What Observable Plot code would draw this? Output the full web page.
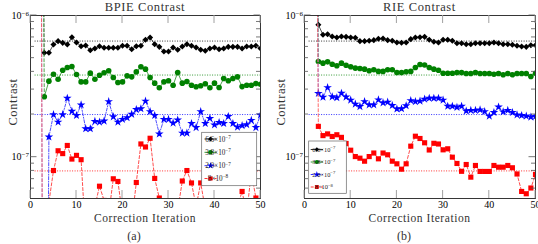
<!DOCTYPE html>
<html><head><meta charset="utf-8">
<script src="https://cdn.jsdelivr.net/npm/d3@7"></script>
<script src="https://cdn.jsdelivr.net/npm/@observablehq/plot@0.6"></script>
<style>
body{margin:0;background:#fff;}
#wrap{display:flex;width:538px;height:244px;overflow:hidden;}
svg text{font-family:"Liberation Serif","Times New Roman",serif;}
</style></head><body><div id="wrap"></div>
<script>
// ---- data (contrast values in units of 1e-7) ----
const iterations = [2,3,4,5,6,7,8,9,10,11,12,13,14,15,16,17,18,19,20,21,22,23,24,25,26,27,28,29,30,31,32,33,34,35,36,37,38,39,40,41,42,43,44,45,46,47,48,49,50];
const targets = [6.6e-7, 3.8e-7, 2.0e-7, 8e-8];
const legendMant = ["6.6","3.8","2.0","8"];
const legendExp = ["\u22127","\u22127","\u22127","\u22128"];
const xTicks = [0,10,20,30,40,50];
const yTicks = [1e-7, 1e-6];
const yMinor = [6e-8,7e-8,8e-8,9e-8,2e-7,3e-7,4e-7,5e-7,6e-7,7e-7,8e-7,9e-7];

// BPIE (a)
const bpieBlack = [1e5,5.46,5.46,6.24,6.59,6.41,6.24,7.03,6.45,6.07,6.14,5.69,5.85,6.07,5.92,5.92,5.92,5.92,6.11,6.11,5.78,6.07,6.11,6.74,6.99,6.27,6.01,5.57,5.57,5.94,5.73,6.04,6.27,6.11,5.94,5.73,5.64,5.85,5.94,5.78,5.85,6.01,6.01,6.01,5.85,6.04,6.04,6.11,5.85];
const bpieGreen = [1e5,2.67,3.44,3.85,3.55,4.11,4.30,4.37,3.83,3.40,3.40,3.92,3.55,3.79,3.94,4.07,3.65,3.37,3.40,3.75,3.69,4.00,4.35,4.18,3.65,3.33,3.09,3.40,3.46,3.22,3.96,3.33,3.42,3.22,3.14,3.19,3.30,3.09,3.33,3.10,3.59,3.46,3.59,3.69,3.15,3.22,3.22,3.31,3.27];
const bpieBlue = [1e5,1e-5,1.39,2.00,1.77,2.00,2.61,2.11,1.97,2.34,1.59,1.59,1.79,1.77,1.80,2.47,1.93,1.77,1.85,1.90,2.01,2.17,2.20,2.49,2.10,1.97,1.46,1.85,1.85,1.74,1.83,1.48,1.48,1.73,1.62,2.10,1.73,1.88,1.69,1.76,1.73,1.94,1.73,1.63,1.67,1.70,1.82,1.62,1.99];
const bpieRed = [1e5,1e-5,0.48,0.805,1.11,1.06,1.21,0.97,1.03,0.96,0.27,0.30,0.45,0.624,0.495,0.395,0.704,0.674,0.39,0.30,0.345,0.663,1.24,1.18,1.36,0.708,0.515,0.30,0.30,0.30,0.42,0.679,0.805,0.658,0.45,0.658,0.43,0.30,0.30,0.30,0.30,0.30,0.30,0.45,0.573,0.40,0.78,0.515,0.35];

// RIE (b)
const rieBlack = [1e5,8.60,7.31,7.38,7.11,6.99,7.11,7.07,6.99,6.96,6.59,6.59,6.63,6.70,6.85,6.88,6.70,6.63,6.45,6.42,6.45,6.81,6.99,7.03,7.07,6.74,6.52,6.45,6.74,6.74,6.63,6.37,6.37,6.27,6.27,6.37,6.37,6.37,6.37,6.45,6.37,6.27,6.27,6.21,6.11,6.04,6.01,6.17,6.17];
const rieGreen = [1e5,4.74,4.61,4.71,4.53,4.42,4.61,4.46,4.35,4.25,4.23,4.18,4.07,4.14,4.03,4.03,4.14,4.14,3.96,3.96,4.01,4.03,4.30,4.51,4.47,4.30,4.18,4.11,3.91,3.91,3.91,3.96,3.96,3.90,3.90,3.96,3.90,3.90,3.90,3.85,3.90,3.82,3.90,3.82,3.90,3.90,3.90,3.71,3.91];
const rieBlue = [1e5,2.82,2.65,3.10,2.67,2.63,2.83,2.66,2.53,2.37,2.28,2.47,2.34,2.34,2.54,2.42,2.45,2.32,2.19,2.20,2.31,2.51,2.47,2.49,2.57,2.61,2.61,2.61,2.53,2.29,2.29,2.25,2.29,2.12,2.14,2.14,2.16,2.10,1.95,2.07,2.26,2.09,2.14,2.07,1.99,1.97,1.95,1.92,1.94];
const rieRed = [1e5,1.65,1.42,1.46,1.40,1.44,1.38,1.25,1.12,1.01,0.984,0.937,1.01,1.07,0.974,1.07,1.04,0.937,0.898,0.823,0.898,1.196,1.406,1.355,1.264,1.124,1.253,1.239,1.127,1.146,1.00,0.903,0.795,0.888,0.723,0.874,0.793,0.793,0.793,0.874,0.850,0.850,0.874,0.842,0.761,0.573,0.552,0.606,0.755];

// ---- styles ----
const colors = ["#000000","#008000","#0000ff","#ff0000"];
const headColors = ["#777777","#3a9a3a","#7f7fff","#ff5a5a"];
const symbols = ["diamond2","circle","star","square"];
const d3symbols = [d3.symbolDiamond2, d3.symbolCircle, d3.symbolStar, d3.symbolSquare];
const radii = [2.75, 2.8, 2.7, 2.9];
const dashes = [null, null, "3,1.5,1,1.5", "3,2"];

function makePanel(cfg) {
  const {series, width, ml, mr, title, caption, legendCfg, ylabX} = cfg;
  const marks = [];
  targets.forEach((t, k) => marks.push(Plot.ruleY([t], {x1: 1, x2: 50, stroke: colors[k], strokeWidth: 0.8, strokeDasharray: "1,1.5"})));
  series.forEach((vals, k) => {
    const data = iterations.map((x, i) => ({x, y: vals[i] * 1e-7}));
    const head = data.filter(d => d.x <= 3), body = data.filter(d => d.x >= 3);
    marks.push(Plot.line(head, {x: "x", y: "y", stroke: headColors[k], strokeWidth: 0.9, strokeDasharray: "3,2", clip: true}));
    marks.push(Plot.line(body, {x: "x", y: "y", stroke: colors[k], strokeWidth: 0.7, strokeDasharray: dashes[k], clip: true}));
    marks.push(Plot.dot(data, {x: "x", y: "y", symbol: symbols[k], r: radii[k], fill: colors[k], stroke: "none", clip: true}));
  });
  marks.push(Plot.frame({stroke: "#222", strokeWidth: 0.9}));
  const plot = Plot.plot({
    width, height: 244, marginLeft: ml, marginRight: mr, marginTop: 15, marginBottom: 46,
    style: {fontFamily: "Liberation Serif", fontSize: "10px", background: "white", overflow: "visible"},
    x: {domain: [0, 50], ticks: xTicks, tickSize: 0, tickPadding: 2.5, label: null},
    y: {type: "log", domain: [5.11e-8, 1e-6], ticks: yTicks, tickSize: 0, tickPadding: 1.5, label: null,
        tickFormat: d => "1e" + Math.round(Math.log10(d))},
    marks
  });
  const svg = d3.select(plot);
  const xs = plot.scale("x"), ys = plot.scale("y");
  const L = ml, R = width - mr, T = 15, B = 198;
  // superscript y tick labels
  svg.selectAll('[aria-label="y-axis tick label"] text').each(function() {
    const s = d3.select(this);
    const e = s.text().replace("1e", "").replace("-", "\u2212");
    s.text("10");
    s.append("tspan").attr("dy", "-0.45em").attr("font-size", "7px").text(e);
  });
  const g = svg.append("g");
  // inward ticks
  xTicks.forEach(v => {
    const x = xs.apply(v);
    g.append("line").attr("x1", x).attr("x2", x).attr("y1", B).attr("y2", B - 8).attr("stroke", "#a0a0a0").attr("stroke-width", 1);
    g.append("line").attr("x1", x).attr("x2", x).attr("y1", T).attr("y2", T + 8).attr("stroke", "#a0a0a0").attr("stroke-width", 1);
  });
  yTicks.concat(yMinor).forEach((v, i) => {
    const y = ys.apply(v), len = i < yTicks.length ? 6.5 : 4;
    g.append("line").attr("x1", L).attr("x2", L + len).attr("y1", y).attr("y2", y).attr("stroke", "#555").attr("stroke-width", 0.8);
    g.append("line").attr("x1", R).attr("x2", R - len).attr("y1", y).attr("y2", y).attr("stroke", "#555").attr("stroke-width", 0.8);
  });
  // texts
  svg.append("text").attr("x", (L + R) / 2).attr("y", 11).attr("text-anchor", "middle")
    .attr("font-size", "12.5px").attr("letter-spacing", "0.6px").attr("fill", "#333").text(title);
  svg.append("text").attr("x", (L + R) / 2).attr("y", 221.5).attr("text-anchor", "middle")
    .attr("font-size", "11.5px").attr("letter-spacing", "0.55px").attr("fill", "#333").text("Correction Iteration");
  svg.append("text").attr("transform", `translate(${ylabX},102) rotate(-90)`).attr("text-anchor", "middle")
    .attr("font-size", "12.5px").attr("letter-spacing", "0.6px").attr("fill", "#333").text("Contrast");
  svg.append("text").attr("x", 134).attr("y", 239.5).attr("text-anchor", "middle")
    .attr("font-size", "12px").attr("fill", "#333").text(caption);
  // legend
  const lc = legendCfg;
  const lg = svg.append("g");
  lg.append("rect").attr("x", lc.x0).attr("y", lc.y0).attr("width", lc.w).attr("height", lc.h)
    .attr("fill", "white").attr("stroke", "#666").attr("stroke-width", 0.7);
  lc.rows.forEach((ry, k) => {
    lg.append("line").attr("x1", lc.lx1).attr("x2", lc.lx2).attr("y1", ry).attr("y2", ry)
      .attr("stroke", colors[k]).attr("stroke-width", 0.8).attr("stroke-dasharray", dashes[k]);
    const r = radii[k] * lc.sym;
    lg.append("path").attr("d", d3.symbol(d3symbols[k], r * r * Math.PI)())
      .attr("transform", `translate(${(lc.lx1 + lc.lx2) / 2},${ry})`).attr("fill", colors[k]);
    const t = lg.append("text").attr("x", lc.tx).attr("y", ry).attr("dy", "0.35em")
      .attr("font-size", lc.fs + "px").attr("fill", "#222").text(legendMant[k] + "\u00d710");
    t.append("tspan").attr("dy", "-0.5em").attr("font-size", (lc.fs * 0.72) + "px").text(legendExp[k]);
  });
  return plot;
}

const wrap = document.getElementById("wrap");
wrap.appendChild(makePanel({
  series: [bpieBlack, bpieGreen, bpieBlue, bpieRed], width: 270, ml: 30, mr: 10,
  title: "BPIE Contrast", caption: "(a)", ylabX: 16.5,
  legendCfg: {x0: 201.7, y0: 132.3, w: 55, h: 53.4, rows: [139, 152.3, 165.7, 178.5], lx1: 204.5, lx2: 216.5, tx: 218, fs: 7.2, sym: 0.8}
}));
wrap.appendChild(makePanel({
  series: [rieBlack, rieGreen, rieBlue, rieRed], width: 268, ml: 34, mr: 3,
  title: "RIE Contrast", caption: "(b)", ylabX: 14.5,
  legendCfg: {x0: 38.7, y0: 141, w: 37.6, h: 52.3, rows: [149.5, 162, 174.5, 187], lx1: 40.7, lx2: 53, tx: 53.8, fs: 6.4, sym: 0.75}
}));
</script></body></html>
